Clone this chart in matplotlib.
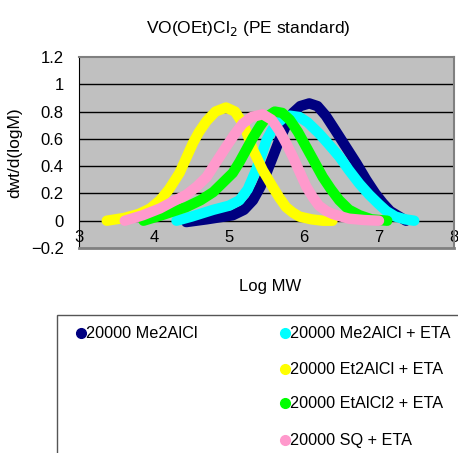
import matplotlib
matplotlib.use("Agg")
import matplotlib.pyplot as plt
from matplotlib.patches import Rectangle
from matplotlib.lines import Line2D

plt.rcParams['font.family'] = ['Liberation Sans', 'DejaVu Sans']

# series: log MW vs dwt/d(logM)
names = ["20000 Me2AlCl", "20000 Me2AlCl + ETA", "20000 Et2AlCl + ETA",
         "20000 EtAlCl2 + ETA", "20000 SQ + ETA"]
colors = ["#000080", "#00FFFF", "#FFFF00", "#00FF00", "#FF99CC"]

me2_x = [4.43, 4.7, 5.05, 5.2, 5.32, 5.42, 5.5, 5.6, 5.67, 5.77, 5.85, 5.95, 6.07,
         6.18, 6.29, 6.42, 6.56, 6.7, 6.83, 6.95, 7.05, 7.15, 7.27, 7.36]
me2_y = [-0.01, 0.01, 0.04, 0.08, 0.15, 0.25, 0.35, 0.49, 0.59, 0.71, 0.79, 0.84, 0.86,
         0.84, 0.77, 0.66, 0.54, 0.42, 0.30, 0.20, 0.13, 0.07, 0.03, 0.0]

me2eta_x = [4.3, 4.5, 4.79, 5.0, 5.14, 5.25, 5.36, 5.44, 5.5, 5.57, 5.63, 5.72, 5.81,
            5.94, 6.05, 6.2, 6.33, 6.47, 6.6, 6.74, 6.87, 7.0, 7.1, 7.22, 7.35, 7.47]
me2eta_y = [0.0, 0.03, 0.08, 0.11, 0.15, 0.23, 0.37, 0.49, 0.59, 0.66, 0.71, 0.75, 0.77,
            0.76, 0.72, 0.64, 0.56, 0.47, 0.37, 0.27, 0.19, 0.12, 0.07, 0.03, 0.01, 0.0]

et2_x = [3.37, 3.6, 3.8, 3.95, 4.08, 4.2, 4.34, 4.43, 4.52, 4.6, 4.7, 4.82, 4.96,
         5.08, 5.2, 5.32, 5.45, 5.58, 5.67, 5.76, 5.85, 5.94, 6.1, 6.25, 6.38]
et2_y = [0.0, 0.02, 0.05, 0.09, 0.15, 0.23, 0.35, 0.46, 0.57, 0.65, 0.73, 0.80, 0.83,
         0.80, 0.70, 0.52, 0.37, 0.25, 0.17, 0.10, 0.06, 0.03, 0.01, 0.0, 0.0]

etcl2_x = [3.86, 4.1, 4.43, 4.62, 4.79, 4.92, 5.05, 5.14, 5.23, 5.32, 5.41, 5.5, 5.61,
           5.71, 5.81, 5.92, 6.03, 6.14, 6.25, 6.36, 6.47, 6.6, 6.74, 6.9, 7.11]
etcl2_y = [0.0, 0.04, 0.1, 0.15, 0.21, 0.28, 0.35, 0.43, 0.52, 0.61, 0.69, 0.76, 0.80,
           0.79, 0.74, 0.65, 0.54, 0.43, 0.32, 0.23, 0.15, 0.08, 0.04, 0.01, 0.0]

sq_x = [3.61, 3.85, 4.08, 4.25, 4.43, 4.57, 4.7, 4.83, 4.96, 5.07, 5.18, 5.3, 5.45,
        5.57, 5.67, 5.76, 5.85, 5.94, 6.03, 6.12, 6.2, 6.3, 6.38, 6.5, 6.6, 6.8, 7.0]
sq_y = [0.0, 0.04, 0.09, 0.14, 0.19, 0.25, 0.32, 0.43, 0.54, 0.63, 0.71, 0.76, 0.78,
        0.74, 0.66, 0.57, 0.47, 0.36, 0.25, 0.17, 0.11, 0.07, 0.05, 0.03, 0.015, 0.005, 0.0]

series_x = [me2_x, me2eta_x, et2_x, etcl2_x, sq_x]
series_y = [me2_y, me2eta_y, et2_y, etcl2_y, sq_y]

yticks = [-0.2, 0, 0.2, 0.4, 0.6, 0.8, 1.0, 1.2]
ytick_labels = ["\u22120.2", "0", "0.2", "0.4", "0.6", "0.8", "1", "1.2"]
xticks = [3, 4, 5, 6, 7, 8]

fig = plt.figure(figsize=(4.58, 4.53), dpi=100)
ax = fig.add_axes([79 / 458, 1 - 248 / 453, 375 / 458, 191 / 453])
ax.set_facecolor("#C0C0C0")

for xs, ys, c in zip(series_x, series_y, colors):
    ax.plot(xs, ys, color=c, lw=7.5, solid_capstyle='round', solid_joinstyle='round')

ax.set_xlim(3, 8)
ax.set_ylim(-0.2, 1.2)
ax.set_yticks(yticks)
ax.set_yticklabels(ytick_labels)
ax.set_xticks(xticks)
for y in yticks[1:-1]:
    ax.axhline(y, color="black", lw=1, zorder=0.5)

for s in ["top", "right"]:
    ax.spines[s].set_color("#808080")
    ax.spines[s].set_linewidth(1.5)
ax.spines["left"].set_color("black")
ax.spines["bottom"].set_color("#808080")
ax.spines["bottom"].set_linewidth(2)
ax.tick_params(axis='y', length=0, pad=11, labelsize=12)
ax.tick_params(axis='x', length=0, pad=-13, labelsize=12)

ax.set_title("VO(OEt)Cl$_2$ (PE standard)", fontsize=12.5, pad=17, x=0.45)
ax.set_ylabel("dwt/d(logM)", fontsize=12.5)
ax.yaxis.set_label_coords(-0.15, 0.5)
ax.set_xlabel("Log MW", fontsize=12)
ax.xaxis.set_label_coords(0.51, -0.16)

# legend box
fig.add_artist(Rectangle((57 / 458, -0.1), 1.0, 1 - 315 / 453 + 0.1,
                         transform=fig.transFigure, facecolor="white",
                         edgecolor="#555555", lw=1))
leg_pos = [(81, 333), (285, 333), (285, 369), (285, 403), (285, 440)]
for (px, py), name, c in zip(leg_pos, names, colors):
    fig.add_artist(Line2D([px / 458], [1 - py / 453], marker='o', ms=7,
                          color=c, transform=fig.transFigure))
    fig.text((px + 5) / 458, 1 - py / 453, name, fontsize=11.7, va='center')

fig.savefig("out.png", dpi=100)
